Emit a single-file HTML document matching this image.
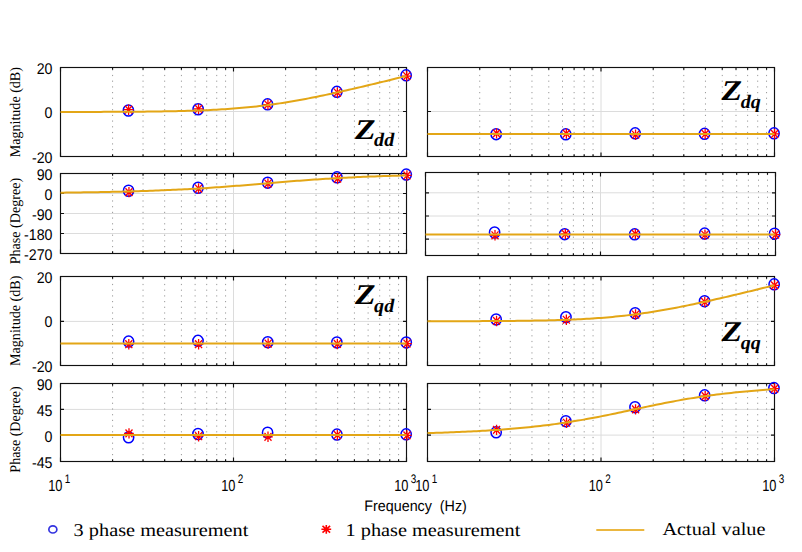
<!DOCTYPE html><html><head><meta charset="utf-8"><style>html,body{margin:0;padding:0;background:#fff;}svg{display:block} text{text-rendering:geometricPrecision}</style></head><body>
<svg width="802" height="552" viewBox="0 0 802 552">
<rect width="802" height="552" fill="#fff"/>
<line x1="233.50" y1="67.5" x2="233.50" y2="156.5" stroke="#dcdcdc" stroke-width="1"/>
<line x1="60.5" y1="111.5" x2="406.5" y2="111.5" stroke="#dcdcdc" stroke-width="1"/>
<line x1="112.58" y1="156.5" x2="112.58" y2="67.5" stroke="#9a9a9a" stroke-width="1" stroke-dasharray="1.2 4.5" stroke-dashoffset="-0.6"/>
<line x1="143.04" y1="156.5" x2="143.04" y2="67.5" stroke="#9a9a9a" stroke-width="1" stroke-dasharray="1.2 4.5" stroke-dashoffset="-0.6"/>
<line x1="164.66" y1="156.5" x2="164.66" y2="67.5" stroke="#9a9a9a" stroke-width="1" stroke-dasharray="1.2 4.5" stroke-dashoffset="-0.6"/>
<line x1="181.42" y1="156.5" x2="181.42" y2="67.5" stroke="#9a9a9a" stroke-width="1" stroke-dasharray="1.2 4.5" stroke-dashoffset="-0.6"/>
<line x1="195.12" y1="156.5" x2="195.12" y2="67.5" stroke="#9a9a9a" stroke-width="1" stroke-dasharray="1.2 4.5" stroke-dashoffset="-0.6"/>
<line x1="206.70" y1="156.5" x2="206.70" y2="67.5" stroke="#9a9a9a" stroke-width="1" stroke-dasharray="1.2 4.5" stroke-dashoffset="-0.6"/>
<line x1="216.73" y1="156.5" x2="216.73" y2="67.5" stroke="#9a9a9a" stroke-width="1" stroke-dasharray="1.2 4.5" stroke-dashoffset="-0.6"/>
<line x1="225.58" y1="156.5" x2="225.58" y2="67.5" stroke="#9a9a9a" stroke-width="1" stroke-dasharray="1.2 4.5" stroke-dashoffset="-0.6"/>
<line x1="285.58" y1="156.5" x2="285.58" y2="67.5" stroke="#9a9a9a" stroke-width="1" stroke-dasharray="1.2 4.5" stroke-dashoffset="-0.6"/>
<line x1="316.04" y1="156.5" x2="316.04" y2="67.5" stroke="#9a9a9a" stroke-width="1" stroke-dasharray="1.2 4.5" stroke-dashoffset="-0.6"/>
<line x1="337.66" y1="156.5" x2="337.66" y2="67.5" stroke="#9a9a9a" stroke-width="1" stroke-dasharray="1.2 4.5" stroke-dashoffset="-0.6"/>
<line x1="354.42" y1="156.5" x2="354.42" y2="67.5" stroke="#9a9a9a" stroke-width="1" stroke-dasharray="1.2 4.5" stroke-dashoffset="-0.6"/>
<line x1="368.12" y1="156.5" x2="368.12" y2="67.5" stroke="#9a9a9a" stroke-width="1" stroke-dasharray="1.2 4.5" stroke-dashoffset="-0.6"/>
<line x1="379.70" y1="156.5" x2="379.70" y2="67.5" stroke="#9a9a9a" stroke-width="1" stroke-dasharray="1.2 4.5" stroke-dashoffset="-0.6"/>
<line x1="389.73" y1="156.5" x2="389.73" y2="67.5" stroke="#9a9a9a" stroke-width="1" stroke-dasharray="1.2 4.5" stroke-dashoffset="-0.6"/>
<line x1="398.58" y1="156.5" x2="398.58" y2="67.5" stroke="#9a9a9a" stroke-width="1" stroke-dasharray="1.2 4.5" stroke-dashoffset="-0.6"/>
<path d="M60.50 156.5v-4M60.50 67.5v4M112.58 156.5v-2.2M112.58 67.5v2.2M143.04 156.5v-2.2M143.04 67.5v2.2M164.66 156.5v-2.2M164.66 67.5v2.2M181.42 156.5v-2.2M181.42 67.5v2.2M195.12 156.5v-2.2M195.12 67.5v2.2M206.70 156.5v-2.2M206.70 67.5v2.2M216.73 156.5v-2.2M216.73 67.5v2.2M225.58 156.5v-2.2M225.58 67.5v2.2M233.50 156.5v-4M233.50 67.5v4M285.58 156.5v-2.2M285.58 67.5v2.2M316.04 156.5v-2.2M316.04 67.5v2.2M337.66 156.5v-2.2M337.66 67.5v2.2M354.42 156.5v-2.2M354.42 67.5v2.2M368.12 156.5v-2.2M368.12 67.5v2.2M379.70 156.5v-2.2M379.70 67.5v2.2M389.73 156.5v-2.2M389.73 67.5v2.2M398.58 156.5v-2.2M398.58 67.5v2.2M406.50 156.5v-4M406.50 67.5v4M60.5 67.5h3.5M406.5 67.5h-3.5M60.5 111.5h3.5M406.5 111.5h-3.5M60.5 156.5h3.5M406.5 156.5h-3.5" stroke="#111" stroke-width="1.15" fill="none"/>
<rect x="60.5" y="67.5" width="346.0" height="89.0" fill="none" stroke="#111" stroke-width="1.15"/>
<ellipse cx="128.40" cy="110.50" rx="5.15" ry="5.5" fill="none" stroke="#0000ff" stroke-width="1.5"/>
<ellipse cx="198.15" cy="109.25" rx="5.15" ry="5.5" fill="none" stroke="#0000ff" stroke-width="1.5"/>
<ellipse cx="267.55" cy="104.35" rx="5.15" ry="5.5" fill="none" stroke="#0000ff" stroke-width="1.5"/>
<ellipse cx="336.85" cy="91.85" rx="5.15" ry="5.5" fill="none" stroke="#0000ff" stroke-width="1.5"/>
<ellipse cx="406.15" cy="75.35" rx="5.15" ry="5.5" fill="none" stroke="#0000ff" stroke-width="1.5"/>
<path d="M123.80 109.70h9.60M128.60 104.50v10.40M125.10 105.80l7.00 7.80M125.10 113.60l7.00 -7.80" stroke="#ff0000" stroke-width="1.3" fill="none"/>
<path d="M193.75 108.95h9.60M198.55 103.75v10.40M195.05 105.05l7.00 7.80M195.05 112.85l7.00 -7.80" stroke="#ff0000" stroke-width="1.3" fill="none"/>
<path d="M263.15 104.55h9.60M267.95 99.35v10.40M264.45 100.65l7.00 7.80M264.45 108.45l7.00 -7.80" stroke="#ff0000" stroke-width="1.3" fill="none"/>
<path d="M332.55 92.55h9.60M337.35 87.35v10.40M333.85 88.65l7.00 7.80M333.85 96.45l7.00 -7.80" stroke="#ff0000" stroke-width="1.3" fill="none"/>
<path d="M401.95 76.05h9.60M406.75 70.85v10.40M403.25 72.15l7.00 7.80M403.25 79.95l7.00 -7.80" stroke="#ff0000" stroke-width="1.3" fill="none"/>
<polyline points="60.50,111.96 63.38,111.96 66.27,111.95 69.15,111.95 72.03,111.94 74.92,111.94 77.80,111.93 80.68,111.93 83.57,111.92 86.45,111.92 89.33,111.91 92.22,111.90 95.10,111.90 97.98,111.89 100.87,111.88 103.75,111.87 106.63,111.86 109.52,111.85 112.40,111.84 115.28,111.82 118.17,111.81 121.05,111.80 123.93,111.78 126.82,111.76 129.70,111.74 132.58,111.72 135.47,111.70 138.35,111.68 141.23,111.65 144.12,111.63 147.00,111.60 149.88,111.57 152.77,111.53 155.65,111.50 158.53,111.46 161.42,111.41 164.30,111.37 167.18,111.32 170.07,111.27 172.95,111.21 175.83,111.15 178.72,111.09 181.60,111.02 184.48,110.94 187.37,110.86 190.25,110.78 193.13,110.69 196.02,110.59 198.90,110.49 201.78,110.38 204.67,110.26 207.55,110.13 210.43,110.00 213.32,109.86 216.20,109.70 219.08,109.54 221.97,109.37 224.85,109.19 227.73,109.00 230.62,108.79 233.50,108.58 236.38,108.35 239.27,108.11 242.15,107.86 245.03,107.60 247.92,107.32 250.80,107.03 253.68,106.73 256.57,106.41 259.45,106.08 262.33,105.73 265.22,105.37 268.10,105.00 270.98,104.61 273.87,104.21 276.75,103.80 279.63,103.37 282.52,102.93 285.40,102.47 288.28,102.00 291.17,101.52 294.05,101.03 296.93,100.52 299.82,100.01 302.70,99.48 305.58,98.94 308.47,98.39 311.35,97.83 314.23,97.26 317.12,96.68 320.00,96.09 322.88,95.49 325.77,94.89 328.65,94.27 331.53,93.65 334.42,93.02 337.30,92.39 340.18,91.75 343.07,91.10 345.95,90.45 348.83,89.80 351.72,89.13 354.60,88.47 357.48,87.80 360.37,87.12 363.25,86.44 366.13,85.76 369.02,85.08 371.90,84.39 374.78,83.70 377.67,83.00 380.55,82.31 383.43,81.61 386.32,80.91 389.20,80.20 392.08,79.50 394.97,78.79 397.85,78.08 400.73,77.37 403.62,76.66 406.50,75.95" fill="none" stroke="#E3A616" stroke-width="2"/>
<line x1="601.00" y1="67.5" x2="601.00" y2="156.5" stroke="#dcdcdc" stroke-width="1"/>
<line x1="427.5" y1="111.5" x2="774.5" y2="111.5" stroke="#dcdcdc" stroke-width="1"/>
<line x1="479.73" y1="156.5" x2="479.73" y2="67.5" stroke="#9a9a9a" stroke-width="1" stroke-dasharray="1.2 4.5" stroke-dashoffset="-0.6"/>
<line x1="510.28" y1="156.5" x2="510.28" y2="67.5" stroke="#9a9a9a" stroke-width="1" stroke-dasharray="1.2 4.5" stroke-dashoffset="-0.6"/>
<line x1="531.96" y1="156.5" x2="531.96" y2="67.5" stroke="#9a9a9a" stroke-width="1" stroke-dasharray="1.2 4.5" stroke-dashoffset="-0.6"/>
<line x1="548.77" y1="156.5" x2="548.77" y2="67.5" stroke="#9a9a9a" stroke-width="1" stroke-dasharray="1.2 4.5" stroke-dashoffset="-0.6"/>
<line x1="562.51" y1="156.5" x2="562.51" y2="67.5" stroke="#9a9a9a" stroke-width="1" stroke-dasharray="1.2 4.5" stroke-dashoffset="-0.6"/>
<line x1="574.12" y1="156.5" x2="574.12" y2="67.5" stroke="#9a9a9a" stroke-width="1" stroke-dasharray="1.2 4.5" stroke-dashoffset="-0.6"/>
<line x1="584.19" y1="156.5" x2="584.19" y2="67.5" stroke="#9a9a9a" stroke-width="1" stroke-dasharray="1.2 4.5" stroke-dashoffset="-0.6"/>
<line x1="593.06" y1="156.5" x2="593.06" y2="67.5" stroke="#9a9a9a" stroke-width="1" stroke-dasharray="1.2 4.5" stroke-dashoffset="-0.6"/>
<line x1="653.23" y1="156.5" x2="653.23" y2="67.5" stroke="#9a9a9a" stroke-width="1" stroke-dasharray="1.2 4.5" stroke-dashoffset="-0.6"/>
<line x1="683.78" y1="156.5" x2="683.78" y2="67.5" stroke="#9a9a9a" stroke-width="1" stroke-dasharray="1.2 4.5" stroke-dashoffset="-0.6"/>
<line x1="705.46" y1="156.5" x2="705.46" y2="67.5" stroke="#9a9a9a" stroke-width="1" stroke-dasharray="1.2 4.5" stroke-dashoffset="-0.6"/>
<line x1="722.27" y1="156.5" x2="722.27" y2="67.5" stroke="#9a9a9a" stroke-width="1" stroke-dasharray="1.2 4.5" stroke-dashoffset="-0.6"/>
<line x1="736.01" y1="156.5" x2="736.01" y2="67.5" stroke="#9a9a9a" stroke-width="1" stroke-dasharray="1.2 4.5" stroke-dashoffset="-0.6"/>
<line x1="747.62" y1="156.5" x2="747.62" y2="67.5" stroke="#9a9a9a" stroke-width="1" stroke-dasharray="1.2 4.5" stroke-dashoffset="-0.6"/>
<line x1="757.69" y1="156.5" x2="757.69" y2="67.5" stroke="#9a9a9a" stroke-width="1" stroke-dasharray="1.2 4.5" stroke-dashoffset="-0.6"/>
<line x1="766.56" y1="156.5" x2="766.56" y2="67.5" stroke="#9a9a9a" stroke-width="1" stroke-dasharray="1.2 4.5" stroke-dashoffset="-0.6"/>
<path d="M427.50 156.5v-4M427.50 67.5v4M479.73 156.5v-2.2M479.73 67.5v2.2M510.28 156.5v-2.2M510.28 67.5v2.2M531.96 156.5v-2.2M531.96 67.5v2.2M548.77 156.5v-2.2M548.77 67.5v2.2M562.51 156.5v-2.2M562.51 67.5v2.2M574.12 156.5v-2.2M574.12 67.5v2.2M584.19 156.5v-2.2M584.19 67.5v2.2M593.06 156.5v-2.2M593.06 67.5v2.2M601.00 156.5v-4M601.00 67.5v4M653.23 156.5v-2.2M653.23 67.5v2.2M683.78 156.5v-2.2M683.78 67.5v2.2M705.46 156.5v-2.2M705.46 67.5v2.2M722.27 156.5v-2.2M722.27 67.5v2.2M736.01 156.5v-2.2M736.01 67.5v2.2M747.62 156.5v-2.2M747.62 67.5v2.2M757.69 156.5v-2.2M757.69 67.5v2.2M766.56 156.5v-2.2M766.56 67.5v2.2M774.50 156.5v-4M774.50 67.5v4M427.5 67.5h3.5M774.5 67.5h-3.5M427.5 111.5h3.5M774.5 111.5h-3.5M427.5 156.5h3.5M774.5 156.5h-3.5" stroke="#111" stroke-width="1.15" fill="none"/>
<rect x="427.5" y="67.5" width="347.0" height="89.0" fill="none" stroke="#111" stroke-width="1.15"/>
<ellipse cx="496.15" cy="134.15" rx="5.15" ry="5.5" fill="none" stroke="#0000ff" stroke-width="1.5"/>
<ellipse cx="565.75" cy="134.35" rx="5.15" ry="5.5" fill="none" stroke="#0000ff" stroke-width="1.5"/>
<ellipse cx="635.15" cy="133.35" rx="5.15" ry="5.5" fill="none" stroke="#0000ff" stroke-width="1.5"/>
<ellipse cx="704.55" cy="133.85" rx="5.15" ry="5.5" fill="none" stroke="#0000ff" stroke-width="1.5"/>
<ellipse cx="774.05" cy="133.35" rx="5.15" ry="5.5" fill="none" stroke="#0000ff" stroke-width="1.5"/>
<path d="M491.75 133.35h9.60M496.55 128.15v10.40M493.05 129.45l7.00 7.80M493.05 137.25l7.00 -7.80" stroke="#ff0000" stroke-width="1.3" fill="none"/>
<path d="M561.55 133.65h9.60M566.35 128.45v10.40M562.85 129.75l7.00 7.80M562.85 137.55l7.00 -7.80" stroke="#ff0000" stroke-width="1.3" fill="none"/>
<path d="M630.75 134.75h9.60M635.55 129.55v10.40M632.05 130.85l7.00 7.80M632.05 138.65l7.00 -7.80" stroke="#ff0000" stroke-width="1.3" fill="none"/>
<path d="M700.35 133.95h9.60M705.15 128.75v10.40M701.65 130.05l7.00 7.80M701.65 137.85l7.00 -7.80" stroke="#ff0000" stroke-width="1.3" fill="none"/>
<path d="M769.75 133.95h9.60M774.55 128.75v10.40M771.05 130.05l7.00 7.80M771.05 137.85l7.00 -7.80" stroke="#ff0000" stroke-width="1.3" fill="none"/>
<polyline points="427.50,133.95 430.39,133.95 433.28,133.95 436.18,133.95 439.07,133.95 441.96,133.95 444.85,133.95 447.74,133.95 450.63,133.95 453.52,133.95 456.42,133.95 459.31,133.95 462.20,133.95 465.09,133.95 467.98,133.95 470.88,133.95 473.77,133.95 476.66,133.95 479.55,133.95 482.44,133.95 485.33,133.95 488.23,133.95 491.12,133.95 494.01,133.95 496.90,133.95 499.79,133.95 502.68,133.95 505.57,133.95 508.47,133.95 511.36,133.95 514.25,133.95 517.14,133.95 520.03,133.95 522.92,133.95 525.82,133.95 528.71,133.95 531.60,133.95 534.49,133.95 537.38,133.95 540.27,133.95 543.17,133.95 546.06,133.95 548.95,133.95 551.84,133.95 554.73,133.95 557.62,133.95 560.52,133.95 563.41,133.95 566.30,133.95 569.19,133.95 572.08,133.95 574.98,133.95 577.87,133.95 580.76,133.95 583.65,133.95 586.54,133.95 589.43,133.95 592.33,133.95 595.22,133.95 598.11,133.95 601.00,133.95 603.89,133.95 606.78,133.95 609.67,133.95 612.57,133.95 615.46,133.95 618.35,133.95 621.24,133.95 624.13,133.95 627.02,133.95 629.92,133.95 632.81,133.95 635.70,133.95 638.59,133.95 641.48,133.95 644.38,133.95 647.27,133.95 650.16,133.95 653.05,133.95 655.94,133.95 658.83,133.95 661.73,133.95 664.62,133.95 667.51,133.95 670.40,133.95 673.29,133.95 676.18,133.95 679.08,133.95 681.97,133.95 684.86,133.95 687.75,133.95 690.64,133.95 693.53,133.95 696.42,133.95 699.32,133.95 702.21,133.95 705.10,133.95 707.99,133.95 710.88,133.95 713.77,133.95 716.67,133.95 719.56,133.95 722.45,133.95 725.34,133.95 728.23,133.95 731.12,133.95 734.02,133.95 736.91,133.95 739.80,133.95 742.69,133.95 745.58,133.95 748.48,133.95 751.37,133.95 754.26,133.95 757.15,133.95 760.04,133.95 762.93,133.95 765.83,133.95 768.72,133.95 771.61,133.95 774.50,133.95" fill="none" stroke="#E3A616" stroke-width="2"/>
<line x1="233.50" y1="173.5" x2="233.50" y2="253.5" stroke="#dcdcdc" stroke-width="1"/>
<line x1="60.5" y1="193.5" x2="406.5" y2="193.5" stroke="#dcdcdc" stroke-width="1"/>
<line x1="60.5" y1="213.5" x2="406.5" y2="213.5" stroke="#dcdcdc" stroke-width="1"/>
<line x1="60.5" y1="233.5" x2="406.5" y2="233.5" stroke="#dcdcdc" stroke-width="1"/>
<line x1="112.58" y1="253.5" x2="112.58" y2="173.5" stroke="#9a9a9a" stroke-width="1" stroke-dasharray="1.2 4.5" stroke-dashoffset="-0.6"/>
<line x1="143.04" y1="253.5" x2="143.04" y2="173.5" stroke="#9a9a9a" stroke-width="1" stroke-dasharray="1.2 4.5" stroke-dashoffset="-0.6"/>
<line x1="164.66" y1="253.5" x2="164.66" y2="173.5" stroke="#9a9a9a" stroke-width="1" stroke-dasharray="1.2 4.5" stroke-dashoffset="-0.6"/>
<line x1="181.42" y1="253.5" x2="181.42" y2="173.5" stroke="#9a9a9a" stroke-width="1" stroke-dasharray="1.2 4.5" stroke-dashoffset="-0.6"/>
<line x1="195.12" y1="253.5" x2="195.12" y2="173.5" stroke="#9a9a9a" stroke-width="1" stroke-dasharray="1.2 4.5" stroke-dashoffset="-0.6"/>
<line x1="206.70" y1="253.5" x2="206.70" y2="173.5" stroke="#9a9a9a" stroke-width="1" stroke-dasharray="1.2 4.5" stroke-dashoffset="-0.6"/>
<line x1="216.73" y1="253.5" x2="216.73" y2="173.5" stroke="#9a9a9a" stroke-width="1" stroke-dasharray="1.2 4.5" stroke-dashoffset="-0.6"/>
<line x1="225.58" y1="253.5" x2="225.58" y2="173.5" stroke="#9a9a9a" stroke-width="1" stroke-dasharray="1.2 4.5" stroke-dashoffset="-0.6"/>
<line x1="285.58" y1="253.5" x2="285.58" y2="173.5" stroke="#9a9a9a" stroke-width="1" stroke-dasharray="1.2 4.5" stroke-dashoffset="-0.6"/>
<line x1="316.04" y1="253.5" x2="316.04" y2="173.5" stroke="#9a9a9a" stroke-width="1" stroke-dasharray="1.2 4.5" stroke-dashoffset="-0.6"/>
<line x1="337.66" y1="253.5" x2="337.66" y2="173.5" stroke="#9a9a9a" stroke-width="1" stroke-dasharray="1.2 4.5" stroke-dashoffset="-0.6"/>
<line x1="354.42" y1="253.5" x2="354.42" y2="173.5" stroke="#9a9a9a" stroke-width="1" stroke-dasharray="1.2 4.5" stroke-dashoffset="-0.6"/>
<line x1="368.12" y1="253.5" x2="368.12" y2="173.5" stroke="#9a9a9a" stroke-width="1" stroke-dasharray="1.2 4.5" stroke-dashoffset="-0.6"/>
<line x1="379.70" y1="253.5" x2="379.70" y2="173.5" stroke="#9a9a9a" stroke-width="1" stroke-dasharray="1.2 4.5" stroke-dashoffset="-0.6"/>
<line x1="389.73" y1="253.5" x2="389.73" y2="173.5" stroke="#9a9a9a" stroke-width="1" stroke-dasharray="1.2 4.5" stroke-dashoffset="-0.6"/>
<line x1="398.58" y1="253.5" x2="398.58" y2="173.5" stroke="#9a9a9a" stroke-width="1" stroke-dasharray="1.2 4.5" stroke-dashoffset="-0.6"/>
<path d="M60.50 253.5v-4M60.50 173.5v4M112.58 253.5v-2.2M112.58 173.5v2.2M143.04 253.5v-2.2M143.04 173.5v2.2M164.66 253.5v-2.2M164.66 173.5v2.2M181.42 253.5v-2.2M181.42 173.5v2.2M195.12 253.5v-2.2M195.12 173.5v2.2M206.70 253.5v-2.2M206.70 173.5v2.2M216.73 253.5v-2.2M216.73 173.5v2.2M225.58 253.5v-2.2M225.58 173.5v2.2M233.50 253.5v-4M233.50 173.5v4M285.58 253.5v-2.2M285.58 173.5v2.2M316.04 253.5v-2.2M316.04 173.5v2.2M337.66 253.5v-2.2M337.66 173.5v2.2M354.42 253.5v-2.2M354.42 173.5v2.2M368.12 253.5v-2.2M368.12 173.5v2.2M379.70 253.5v-2.2M379.70 173.5v2.2M389.73 253.5v-2.2M389.73 173.5v2.2M398.58 253.5v-2.2M398.58 173.5v2.2M406.50 253.5v-4M406.50 173.5v4M60.5 173.5h3.5M406.5 173.5h-3.5M60.5 193.5h3.5M406.5 193.5h-3.5M60.5 213.5h3.5M406.5 213.5h-3.5M60.5 233.5h3.5M406.5 233.5h-3.5M60.5 253.5h3.5M406.5 253.5h-3.5" stroke="#111" stroke-width="1.15" fill="none"/>
<rect x="60.5" y="173.5" width="346.0" height="80.0" fill="none" stroke="#111" stroke-width="1.15"/>
<ellipse cx="128.55" cy="190.75" rx="5.15" ry="5.5" fill="none" stroke="#0000ff" stroke-width="1.5"/>
<ellipse cx="198.05" cy="187.75" rx="5.15" ry="5.5" fill="none" stroke="#0000ff" stroke-width="1.5"/>
<ellipse cx="267.65" cy="182.65" rx="5.15" ry="5.5" fill="none" stroke="#0000ff" stroke-width="1.5"/>
<ellipse cx="336.95" cy="177.35" rx="5.15" ry="5.5" fill="none" stroke="#0000ff" stroke-width="1.5"/>
<ellipse cx="406.25" cy="174.55" rx="5.15" ry="5.5" fill="none" stroke="#0000ff" stroke-width="1.5"/>
<path d="M124.15 192.15h9.60M128.95 186.95v10.40M125.45 188.25l7.00 7.80M125.45 196.05l7.00 -7.80" stroke="#ff0000" stroke-width="1.3" fill="none"/>
<path d="M193.75 188.55h9.60M198.55 183.35v10.40M195.05 184.65l7.00 7.80M195.05 192.45l7.00 -7.80" stroke="#ff0000" stroke-width="1.3" fill="none"/>
<path d="M263.15 183.55h9.60M267.95 178.35v10.40M264.45 179.65l7.00 7.80M264.45 187.45l7.00 -7.80" stroke="#ff0000" stroke-width="1.3" fill="none"/>
<path d="M332.75 178.55h9.60M337.55 173.35v10.40M334.05 174.65l7.00 7.80M334.05 182.45l7.00 -7.80" stroke="#ff0000" stroke-width="1.3" fill="none"/>
<path d="M402.15 175.45h9.60M406.95 170.25v10.40M403.45 171.55l7.00 7.80M403.45 179.35l7.00 -7.80" stroke="#ff0000" stroke-width="1.3" fill="none"/>
<polyline points="60.50,192.66 63.38,192.63 66.27,192.60 69.15,192.56 72.03,192.53 74.92,192.49 77.80,192.45 80.68,192.41 83.57,192.36 86.45,192.32 89.33,192.27 92.22,192.23 95.10,192.18 97.98,192.13 100.87,192.07 103.75,192.02 106.63,191.96 109.52,191.90 112.40,191.84 115.28,191.77 118.17,191.71 121.05,191.64 123.93,191.57 126.82,191.49 129.70,191.41 132.58,191.33 135.47,191.25 138.35,191.17 141.23,191.08 144.12,190.98 147.00,190.89 149.88,190.79 152.77,190.69 155.65,190.58 158.53,190.47 161.42,190.36 164.30,190.24 167.18,190.12 170.07,189.99 172.95,189.86 175.83,189.73 178.72,189.59 181.60,189.44 184.48,189.30 187.37,189.15 190.25,188.99 193.13,188.83 196.02,188.66 198.90,188.49 201.78,188.31 204.67,188.13 207.55,187.95 210.43,187.76 213.32,187.57 216.20,187.37 219.08,187.17 221.97,186.96 224.85,186.75 227.73,186.53 230.62,186.31 233.50,186.09 236.38,185.86 239.27,185.64 242.15,185.40 245.03,185.17 247.92,184.93 250.80,184.69 253.68,184.45 256.57,184.21 259.45,183.97 262.33,183.72 265.22,183.48 268.10,183.23 270.98,182.99 273.87,182.75 276.75,182.50 279.63,182.26 282.52,182.03 285.40,181.79 288.28,181.55 291.17,181.32 294.05,181.09 296.93,180.87 299.82,180.65 302.70,180.43 305.58,180.21 308.47,180.00 311.35,179.80 314.23,179.60 317.12,179.40 320.00,179.20 322.88,179.02 325.77,178.83 328.65,178.65 331.53,178.48 334.42,178.31 337.30,178.14 340.18,177.98 343.07,177.83 345.95,177.68 348.83,177.53 351.72,177.39 354.60,177.25 357.48,177.12 360.37,176.99 363.25,176.86 366.13,176.74 369.02,176.62 371.90,176.51 374.78,176.40 377.67,176.29 380.55,176.19 383.43,176.09 386.32,176.00 389.20,175.91 392.08,175.82 394.97,175.73 397.85,175.65 400.73,175.57 403.62,175.49 406.50,175.42" fill="none" stroke="#E3A616" stroke-width="2"/>
<line x1="600.50" y1="172.5" x2="600.50" y2="255.5" stroke="#dcdcdc" stroke-width="1"/>
<line x1="425.5" y1="192.8" x2="775.5" y2="192.8" stroke="#dcdcdc" stroke-width="1"/>
<line x1="425.5" y1="216.0" x2="775.5" y2="216.0" stroke="#dcdcdc" stroke-width="1"/>
<line x1="425.5" y1="239.1" x2="775.5" y2="239.1" stroke="#dcdcdc" stroke-width="1"/>
<line x1="478.18" y1="255.5" x2="478.18" y2="172.5" stroke="#9a9a9a" stroke-width="1" stroke-dasharray="1.2 4.5" stroke-dashoffset="-0.6"/>
<line x1="509.00" y1="255.5" x2="509.00" y2="172.5" stroke="#9a9a9a" stroke-width="1" stroke-dasharray="1.2 4.5" stroke-dashoffset="-0.6"/>
<line x1="530.86" y1="255.5" x2="530.86" y2="172.5" stroke="#9a9a9a" stroke-width="1" stroke-dasharray="1.2 4.5" stroke-dashoffset="-0.6"/>
<line x1="547.82" y1="255.5" x2="547.82" y2="172.5" stroke="#9a9a9a" stroke-width="1" stroke-dasharray="1.2 4.5" stroke-dashoffset="-0.6"/>
<line x1="561.68" y1="255.5" x2="561.68" y2="172.5" stroke="#9a9a9a" stroke-width="1" stroke-dasharray="1.2 4.5" stroke-dashoffset="-0.6"/>
<line x1="573.39" y1="255.5" x2="573.39" y2="172.5" stroke="#9a9a9a" stroke-width="1" stroke-dasharray="1.2 4.5" stroke-dashoffset="-0.6"/>
<line x1="583.54" y1="255.5" x2="583.54" y2="172.5" stroke="#9a9a9a" stroke-width="1" stroke-dasharray="1.2 4.5" stroke-dashoffset="-0.6"/>
<line x1="592.49" y1="255.5" x2="592.49" y2="172.5" stroke="#9a9a9a" stroke-width="1" stroke-dasharray="1.2 4.5" stroke-dashoffset="-0.6"/>
<line x1="653.18" y1="255.5" x2="653.18" y2="172.5" stroke="#9a9a9a" stroke-width="1" stroke-dasharray="1.2 4.5" stroke-dashoffset="-0.6"/>
<line x1="684.00" y1="255.5" x2="684.00" y2="172.5" stroke="#9a9a9a" stroke-width="1" stroke-dasharray="1.2 4.5" stroke-dashoffset="-0.6"/>
<line x1="705.86" y1="255.5" x2="705.86" y2="172.5" stroke="#9a9a9a" stroke-width="1" stroke-dasharray="1.2 4.5" stroke-dashoffset="-0.6"/>
<line x1="722.82" y1="255.5" x2="722.82" y2="172.5" stroke="#9a9a9a" stroke-width="1" stroke-dasharray="1.2 4.5" stroke-dashoffset="-0.6"/>
<line x1="736.68" y1="255.5" x2="736.68" y2="172.5" stroke="#9a9a9a" stroke-width="1" stroke-dasharray="1.2 4.5" stroke-dashoffset="-0.6"/>
<line x1="748.39" y1="255.5" x2="748.39" y2="172.5" stroke="#9a9a9a" stroke-width="1" stroke-dasharray="1.2 4.5" stroke-dashoffset="-0.6"/>
<line x1="758.54" y1="255.5" x2="758.54" y2="172.5" stroke="#9a9a9a" stroke-width="1" stroke-dasharray="1.2 4.5" stroke-dashoffset="-0.6"/>
<line x1="767.49" y1="255.5" x2="767.49" y2="172.5" stroke="#9a9a9a" stroke-width="1" stroke-dasharray="1.2 4.5" stroke-dashoffset="-0.6"/>
<path d="M425.50 255.5v-4M425.50 172.5v4M478.18 255.5v-2.2M478.18 172.5v2.2M509.00 255.5v-2.2M509.00 172.5v2.2M530.86 255.5v-2.2M530.86 172.5v2.2M547.82 255.5v-2.2M547.82 172.5v2.2M561.68 255.5v-2.2M561.68 172.5v2.2M573.39 255.5v-2.2M573.39 172.5v2.2M583.54 255.5v-2.2M583.54 172.5v2.2M592.49 255.5v-2.2M592.49 172.5v2.2M600.50 255.5v-4M600.50 172.5v4M653.18 255.5v-2.2M653.18 172.5v2.2M684.00 255.5v-2.2M684.00 172.5v2.2M705.86 255.5v-2.2M705.86 172.5v2.2M722.82 255.5v-2.2M722.82 172.5v2.2M736.68 255.5v-2.2M736.68 172.5v2.2M748.39 255.5v-2.2M748.39 172.5v2.2M758.54 255.5v-2.2M758.54 172.5v2.2M767.49 255.5v-2.2M767.49 172.5v2.2M775.50 255.5v-4M775.50 172.5v4M425.5 192.8h3.5M775.5 192.8h-3.5M425.5 216.0h3.5M775.5 216.0h-3.5M425.5 239.1h3.5M775.5 239.1h-3.5" stroke="#111" stroke-width="1.15" fill="none"/>
<rect x="425.5" y="172.5" width="350.0" height="83.0" fill="none" stroke="#111" stroke-width="1.15"/>
<ellipse cx="494.60" cy="232.50" rx="5.15" ry="5.5" fill="none" stroke="#0000ff" stroke-width="1.5"/>
<ellipse cx="564.65" cy="234.15" rx="5.15" ry="5.5" fill="none" stroke="#0000ff" stroke-width="1.5"/>
<ellipse cx="634.65" cy="234.35" rx="5.15" ry="5.5" fill="none" stroke="#0000ff" stroke-width="1.5"/>
<ellipse cx="704.65" cy="233.55" rx="5.15" ry="5.5" fill="none" stroke="#0000ff" stroke-width="1.5"/>
<ellipse cx="774.55" cy="233.65" rx="5.15" ry="5.5" fill="none" stroke="#0000ff" stroke-width="1.5"/>
<path d="M490.20 235.30h9.60M495.00 230.10v10.40M491.50 231.40l7.00 7.80M491.50 239.20l7.00 -7.80" stroke="#ff0000" stroke-width="1.3" fill="none"/>
<path d="M560.55 233.95h9.60M565.35 228.75v10.40M561.85 230.05l7.00 7.80M561.85 237.85l7.00 -7.80" stroke="#ff0000" stroke-width="1.3" fill="none"/>
<path d="M630.55 233.95h9.60M635.35 228.75v10.40M631.85 230.05l7.00 7.80M631.85 237.85l7.00 -7.80" stroke="#ff0000" stroke-width="1.3" fill="none"/>
<path d="M700.15 234.75h9.60M704.95 229.55v10.40M701.45 230.85l7.00 7.80M701.45 238.65l7.00 -7.80" stroke="#ff0000" stroke-width="1.3" fill="none"/>
<path d="M770.75 234.55h9.60M775.55 229.35v10.40M772.05 230.65l7.00 7.80M772.05 238.45l7.00 -7.80" stroke="#ff0000" stroke-width="1.3" fill="none"/>
<polyline points="425.50,234.40 428.42,234.40 431.33,234.40 434.25,234.40 437.17,234.40 440.08,234.40 443.00,234.40 445.92,234.40 448.83,234.40 451.75,234.40 454.67,234.40 457.58,234.40 460.50,234.40 463.42,234.40 466.33,234.40 469.25,234.40 472.17,234.40 475.08,234.40 478.00,234.40 480.92,234.40 483.83,234.40 486.75,234.40 489.67,234.40 492.58,234.40 495.50,234.40 498.42,234.40 501.33,234.40 504.25,234.40 507.17,234.40 510.08,234.40 513.00,234.40 515.92,234.40 518.83,234.40 521.75,234.40 524.67,234.40 527.58,234.40 530.50,234.40 533.42,234.40 536.33,234.40 539.25,234.40 542.17,234.40 545.08,234.40 548.00,234.40 550.92,234.40 553.83,234.40 556.75,234.40 559.67,234.40 562.58,234.40 565.50,234.40 568.42,234.40 571.33,234.40 574.25,234.40 577.17,234.40 580.08,234.40 583.00,234.40 585.92,234.40 588.83,234.40 591.75,234.40 594.67,234.40 597.58,234.40 600.50,234.40 603.42,234.40 606.33,234.40 609.25,234.40 612.17,234.40 615.08,234.40 618.00,234.40 620.92,234.40 623.83,234.40 626.75,234.40 629.67,234.40 632.58,234.40 635.50,234.40 638.42,234.40 641.33,234.40 644.25,234.40 647.17,234.40 650.08,234.40 653.00,234.40 655.92,234.40 658.83,234.40 661.75,234.40 664.67,234.40 667.58,234.40 670.50,234.40 673.42,234.40 676.33,234.40 679.25,234.40 682.17,234.40 685.08,234.40 688.00,234.40 690.92,234.40 693.83,234.40 696.75,234.40 699.67,234.40 702.58,234.40 705.50,234.40 708.42,234.40 711.33,234.40 714.25,234.40 717.17,234.40 720.08,234.40 723.00,234.40 725.92,234.40 728.83,234.40 731.75,234.40 734.67,234.40 737.58,234.40 740.50,234.40 743.42,234.40 746.33,234.40 749.25,234.40 752.17,234.40 755.08,234.40 758.00,234.40 760.92,234.40 763.83,234.40 766.75,234.40 769.67,234.40 772.58,234.40 775.50,234.40" fill="none" stroke="#E3A616" stroke-width="2"/>
<line x1="233.50" y1="276.5" x2="233.50" y2="365.5" stroke="#dcdcdc" stroke-width="1"/>
<line x1="60.5" y1="321.4" x2="406.5" y2="321.4" stroke="#dcdcdc" stroke-width="1"/>
<line x1="112.58" y1="365.5" x2="112.58" y2="276.5" stroke="#9a9a9a" stroke-width="1" stroke-dasharray="1.2 4.5" stroke-dashoffset="-0.6"/>
<line x1="143.04" y1="365.5" x2="143.04" y2="276.5" stroke="#9a9a9a" stroke-width="1" stroke-dasharray="1.2 4.5" stroke-dashoffset="-0.6"/>
<line x1="164.66" y1="365.5" x2="164.66" y2="276.5" stroke="#9a9a9a" stroke-width="1" stroke-dasharray="1.2 4.5" stroke-dashoffset="-0.6"/>
<line x1="181.42" y1="365.5" x2="181.42" y2="276.5" stroke="#9a9a9a" stroke-width="1" stroke-dasharray="1.2 4.5" stroke-dashoffset="-0.6"/>
<line x1="195.12" y1="365.5" x2="195.12" y2="276.5" stroke="#9a9a9a" stroke-width="1" stroke-dasharray="1.2 4.5" stroke-dashoffset="-0.6"/>
<line x1="206.70" y1="365.5" x2="206.70" y2="276.5" stroke="#9a9a9a" stroke-width="1" stroke-dasharray="1.2 4.5" stroke-dashoffset="-0.6"/>
<line x1="216.73" y1="365.5" x2="216.73" y2="276.5" stroke="#9a9a9a" stroke-width="1" stroke-dasharray="1.2 4.5" stroke-dashoffset="-0.6"/>
<line x1="225.58" y1="365.5" x2="225.58" y2="276.5" stroke="#9a9a9a" stroke-width="1" stroke-dasharray="1.2 4.5" stroke-dashoffset="-0.6"/>
<line x1="285.58" y1="365.5" x2="285.58" y2="276.5" stroke="#9a9a9a" stroke-width="1" stroke-dasharray="1.2 4.5" stroke-dashoffset="-0.6"/>
<line x1="316.04" y1="365.5" x2="316.04" y2="276.5" stroke="#9a9a9a" stroke-width="1" stroke-dasharray="1.2 4.5" stroke-dashoffset="-0.6"/>
<line x1="337.66" y1="365.5" x2="337.66" y2="276.5" stroke="#9a9a9a" stroke-width="1" stroke-dasharray="1.2 4.5" stroke-dashoffset="-0.6"/>
<line x1="354.42" y1="365.5" x2="354.42" y2="276.5" stroke="#9a9a9a" stroke-width="1" stroke-dasharray="1.2 4.5" stroke-dashoffset="-0.6"/>
<line x1="368.12" y1="365.5" x2="368.12" y2="276.5" stroke="#9a9a9a" stroke-width="1" stroke-dasharray="1.2 4.5" stroke-dashoffset="-0.6"/>
<line x1="379.70" y1="365.5" x2="379.70" y2="276.5" stroke="#9a9a9a" stroke-width="1" stroke-dasharray="1.2 4.5" stroke-dashoffset="-0.6"/>
<line x1="389.73" y1="365.5" x2="389.73" y2="276.5" stroke="#9a9a9a" stroke-width="1" stroke-dasharray="1.2 4.5" stroke-dashoffset="-0.6"/>
<line x1="398.58" y1="365.5" x2="398.58" y2="276.5" stroke="#9a9a9a" stroke-width="1" stroke-dasharray="1.2 4.5" stroke-dashoffset="-0.6"/>
<path d="M60.50 365.5v-4M60.50 276.5v4M112.58 365.5v-2.2M112.58 276.5v2.2M143.04 365.5v-2.2M143.04 276.5v2.2M164.66 365.5v-2.2M164.66 276.5v2.2M181.42 365.5v-2.2M181.42 276.5v2.2M195.12 365.5v-2.2M195.12 276.5v2.2M206.70 365.5v-2.2M206.70 276.5v2.2M216.73 365.5v-2.2M216.73 276.5v2.2M225.58 365.5v-2.2M225.58 276.5v2.2M233.50 365.5v-4M233.50 276.5v4M285.58 365.5v-2.2M285.58 276.5v2.2M316.04 365.5v-2.2M316.04 276.5v2.2M337.66 365.5v-2.2M337.66 276.5v2.2M354.42 365.5v-2.2M354.42 276.5v2.2M368.12 365.5v-2.2M368.12 276.5v2.2M379.70 365.5v-2.2M379.70 276.5v2.2M389.73 365.5v-2.2M389.73 276.5v2.2M398.58 365.5v-2.2M398.58 276.5v2.2M406.50 365.5v-4M406.50 276.5v4M60.5 276.5h3.5M406.5 276.5h-3.5M60.5 321.4h3.5M406.5 321.4h-3.5M60.5 365.5h3.5M406.5 365.5h-3.5" stroke="#111" stroke-width="1.15" fill="none"/>
<rect x="60.5" y="276.5" width="346.0" height="89.0" fill="none" stroke="#111" stroke-width="1.15"/>
<ellipse cx="128.60" cy="341.60" rx="5.15" ry="5.5" fill="none" stroke="#0000ff" stroke-width="1.5"/>
<ellipse cx="198.00" cy="340.80" rx="5.15" ry="5.5" fill="none" stroke="#0000ff" stroke-width="1.5"/>
<ellipse cx="267.75" cy="342.20" rx="5.15" ry="5.5" fill="none" stroke="#0000ff" stroke-width="1.5"/>
<ellipse cx="336.85" cy="342.40" rx="5.15" ry="5.5" fill="none" stroke="#0000ff" stroke-width="1.5"/>
<ellipse cx="406.25" cy="342.40" rx="5.15" ry="5.5" fill="none" stroke="#0000ff" stroke-width="1.5"/>
<path d="M124.00 344.20h9.60M128.80 339.00v10.40M125.30 340.30l7.00 7.80M125.30 348.10l7.00 -7.80" stroke="#ff0000" stroke-width="1.3" fill="none"/>
<path d="M193.80 344.20h9.60M198.60 339.00v10.40M195.10 340.30l7.00 7.80M195.10 348.10l7.00 -7.80" stroke="#ff0000" stroke-width="1.3" fill="none"/>
<path d="M263.35 343.55h9.60M268.15 338.35v10.40M264.65 339.65l7.00 7.80M264.65 347.45l7.00 -7.80" stroke="#ff0000" stroke-width="1.3" fill="none"/>
<path d="M332.55 343.95h9.60M337.35 338.75v10.40M333.85 340.05l7.00 7.80M333.85 347.85l7.00 -7.80" stroke="#ff0000" stroke-width="1.3" fill="none"/>
<path d="M402.15 343.55h9.60M406.95 338.35v10.40M403.45 339.65l7.00 7.80M403.45 347.45l7.00 -7.80" stroke="#ff0000" stroke-width="1.3" fill="none"/>
<polyline points="60.50,343.40 63.38,343.40 66.27,343.40 69.15,343.40 72.03,343.40 74.92,343.40 77.80,343.40 80.68,343.40 83.57,343.40 86.45,343.40 89.33,343.40 92.22,343.40 95.10,343.40 97.98,343.40 100.87,343.40 103.75,343.40 106.63,343.40 109.52,343.40 112.40,343.40 115.28,343.40 118.17,343.40 121.05,343.40 123.93,343.40 126.82,343.40 129.70,343.40 132.58,343.40 135.47,343.40 138.35,343.40 141.23,343.40 144.12,343.40 147.00,343.40 149.88,343.40 152.77,343.40 155.65,343.40 158.53,343.40 161.42,343.40 164.30,343.40 167.18,343.40 170.07,343.40 172.95,343.40 175.83,343.40 178.72,343.40 181.60,343.40 184.48,343.40 187.37,343.40 190.25,343.40 193.13,343.40 196.02,343.40 198.90,343.40 201.78,343.40 204.67,343.40 207.55,343.40 210.43,343.40 213.32,343.40 216.20,343.40 219.08,343.40 221.97,343.40 224.85,343.40 227.73,343.40 230.62,343.40 233.50,343.40 236.38,343.40 239.27,343.40 242.15,343.40 245.03,343.40 247.92,343.40 250.80,343.40 253.68,343.40 256.57,343.40 259.45,343.40 262.33,343.40 265.22,343.40 268.10,343.40 270.98,343.40 273.87,343.40 276.75,343.40 279.63,343.40 282.52,343.40 285.40,343.40 288.28,343.40 291.17,343.40 294.05,343.40 296.93,343.40 299.82,343.40 302.70,343.40 305.58,343.40 308.47,343.40 311.35,343.40 314.23,343.40 317.12,343.40 320.00,343.40 322.88,343.40 325.77,343.40 328.65,343.40 331.53,343.40 334.42,343.40 337.30,343.40 340.18,343.40 343.07,343.40 345.95,343.40 348.83,343.40 351.72,343.40 354.60,343.40 357.48,343.40 360.37,343.40 363.25,343.40 366.13,343.40 369.02,343.40 371.90,343.40 374.78,343.40 377.67,343.40 380.55,343.40 383.43,343.40 386.32,343.40 389.20,343.40 392.08,343.40 394.97,343.40 397.85,343.40 400.73,343.40 403.62,343.40 406.50,343.40" fill="none" stroke="#E3A616" stroke-width="2"/>
<line x1="601.00" y1="276.5" x2="601.00" y2="365.5" stroke="#dcdcdc" stroke-width="1"/>
<line x1="427.5" y1="321.4" x2="774.5" y2="321.4" stroke="#dcdcdc" stroke-width="1"/>
<line x1="479.73" y1="365.5" x2="479.73" y2="276.5" stroke="#9a9a9a" stroke-width="1" stroke-dasharray="1.2 4.5" stroke-dashoffset="-0.6"/>
<line x1="510.28" y1="365.5" x2="510.28" y2="276.5" stroke="#9a9a9a" stroke-width="1" stroke-dasharray="1.2 4.5" stroke-dashoffset="-0.6"/>
<line x1="531.96" y1="365.5" x2="531.96" y2="276.5" stroke="#9a9a9a" stroke-width="1" stroke-dasharray="1.2 4.5" stroke-dashoffset="-0.6"/>
<line x1="548.77" y1="365.5" x2="548.77" y2="276.5" stroke="#9a9a9a" stroke-width="1" stroke-dasharray="1.2 4.5" stroke-dashoffset="-0.6"/>
<line x1="562.51" y1="365.5" x2="562.51" y2="276.5" stroke="#9a9a9a" stroke-width="1" stroke-dasharray="1.2 4.5" stroke-dashoffset="-0.6"/>
<line x1="574.12" y1="365.5" x2="574.12" y2="276.5" stroke="#9a9a9a" stroke-width="1" stroke-dasharray="1.2 4.5" stroke-dashoffset="-0.6"/>
<line x1="584.19" y1="365.5" x2="584.19" y2="276.5" stroke="#9a9a9a" stroke-width="1" stroke-dasharray="1.2 4.5" stroke-dashoffset="-0.6"/>
<line x1="593.06" y1="365.5" x2="593.06" y2="276.5" stroke="#9a9a9a" stroke-width="1" stroke-dasharray="1.2 4.5" stroke-dashoffset="-0.6"/>
<line x1="653.23" y1="365.5" x2="653.23" y2="276.5" stroke="#9a9a9a" stroke-width="1" stroke-dasharray="1.2 4.5" stroke-dashoffset="-0.6"/>
<line x1="683.78" y1="365.5" x2="683.78" y2="276.5" stroke="#9a9a9a" stroke-width="1" stroke-dasharray="1.2 4.5" stroke-dashoffset="-0.6"/>
<line x1="705.46" y1="365.5" x2="705.46" y2="276.5" stroke="#9a9a9a" stroke-width="1" stroke-dasharray="1.2 4.5" stroke-dashoffset="-0.6"/>
<line x1="722.27" y1="365.5" x2="722.27" y2="276.5" stroke="#9a9a9a" stroke-width="1" stroke-dasharray="1.2 4.5" stroke-dashoffset="-0.6"/>
<line x1="736.01" y1="365.5" x2="736.01" y2="276.5" stroke="#9a9a9a" stroke-width="1" stroke-dasharray="1.2 4.5" stroke-dashoffset="-0.6"/>
<line x1="747.62" y1="365.5" x2="747.62" y2="276.5" stroke="#9a9a9a" stroke-width="1" stroke-dasharray="1.2 4.5" stroke-dashoffset="-0.6"/>
<line x1="757.69" y1="365.5" x2="757.69" y2="276.5" stroke="#9a9a9a" stroke-width="1" stroke-dasharray="1.2 4.5" stroke-dashoffset="-0.6"/>
<line x1="766.56" y1="365.5" x2="766.56" y2="276.5" stroke="#9a9a9a" stroke-width="1" stroke-dasharray="1.2 4.5" stroke-dashoffset="-0.6"/>
<path d="M427.50 365.5v-4M427.50 276.5v4M479.73 365.5v-2.2M479.73 276.5v2.2M510.28 365.5v-2.2M510.28 276.5v2.2M531.96 365.5v-2.2M531.96 276.5v2.2M548.77 365.5v-2.2M548.77 276.5v2.2M562.51 365.5v-2.2M562.51 276.5v2.2M574.12 365.5v-2.2M574.12 276.5v2.2M584.19 365.5v-2.2M584.19 276.5v2.2M593.06 365.5v-2.2M593.06 276.5v2.2M601.00 365.5v-4M601.00 276.5v4M653.23 365.5v-2.2M653.23 276.5v2.2M683.78 365.5v-2.2M683.78 276.5v2.2M705.46 365.5v-2.2M705.46 276.5v2.2M722.27 365.5v-2.2M722.27 276.5v2.2M736.01 365.5v-2.2M736.01 276.5v2.2M747.62 365.5v-2.2M747.62 276.5v2.2M757.69 365.5v-2.2M757.69 276.5v2.2M766.56 365.5v-2.2M766.56 276.5v2.2M774.50 365.5v-4M774.50 276.5v4M427.5 276.5h3.5M774.5 276.5h-3.5M427.5 321.4h3.5M774.5 321.4h-3.5M427.5 365.5h3.5M774.5 365.5h-3.5" stroke="#111" stroke-width="1.15" fill="none"/>
<rect x="427.5" y="276.5" width="347.0" height="89.0" fill="none" stroke="#111" stroke-width="1.15"/>
<ellipse cx="496.15" cy="319.45" rx="5.15" ry="5.5" fill="none" stroke="#0000ff" stroke-width="1.5"/>
<ellipse cx="565.95" cy="317.15" rx="5.15" ry="5.5" fill="none" stroke="#0000ff" stroke-width="1.5"/>
<ellipse cx="635.15" cy="313.15" rx="5.15" ry="5.5" fill="none" stroke="#0000ff" stroke-width="1.5"/>
<ellipse cx="704.55" cy="301.15" rx="5.15" ry="5.5" fill="none" stroke="#0000ff" stroke-width="1.5"/>
<ellipse cx="774.15" cy="284.35" rx="5.15" ry="5.5" fill="none" stroke="#0000ff" stroke-width="1.5"/>
<path d="M491.75 320.95h9.60M496.55 315.75v10.40M493.05 317.05l7.00 7.80M493.05 324.85l7.00 -7.80" stroke="#ff0000" stroke-width="1.3" fill="none"/>
<path d="M561.55 319.75h9.60M566.35 314.55v10.40M562.85 315.85l7.00 7.80M562.85 323.65l7.00 -7.80" stroke="#ff0000" stroke-width="1.3" fill="none"/>
<path d="M630.75 314.55h9.60M635.55 309.35v10.40M632.05 310.65l7.00 7.80M632.05 318.45l7.00 -7.80" stroke="#ff0000" stroke-width="1.3" fill="none"/>
<path d="M699.95 301.95h9.60M704.75 296.75v10.40M701.25 298.05l7.00 7.80M701.25 305.85l7.00 -7.80" stroke="#ff0000" stroke-width="1.3" fill="none"/>
<path d="M769.75 285.35h9.60M774.55 280.15v10.40M771.05 281.45l7.00 7.80M771.05 289.25l7.00 -7.80" stroke="#ff0000" stroke-width="1.3" fill="none"/>
<polyline points="427.50,321.26 430.39,321.26 433.28,321.25 436.18,321.25 439.07,321.24 441.96,321.24 444.85,321.23 447.74,321.23 450.63,321.22 453.52,321.22 456.42,321.21 459.31,321.20 462.20,321.20 465.09,321.19 467.98,321.18 470.88,321.17 473.77,321.16 476.66,321.15 479.55,321.14 482.44,321.12 485.33,321.11 488.23,321.10 491.12,321.08 494.01,321.06 496.90,321.04 499.79,321.02 502.68,321.00 505.57,320.98 508.47,320.95 511.36,320.93 514.25,320.90 517.14,320.87 520.03,320.83 522.92,320.80 525.82,320.76 528.71,320.71 531.60,320.67 534.49,320.62 537.38,320.57 540.27,320.51 543.17,320.45 546.06,320.39 548.95,320.32 551.84,320.24 554.73,320.16 557.62,320.08 560.52,319.99 563.41,319.89 566.30,319.79 569.19,319.68 572.08,319.56 574.98,319.43 577.87,319.30 580.76,319.16 583.65,319.00 586.54,318.84 589.43,318.67 592.33,318.49 595.22,318.30 598.11,318.09 601.00,317.88 603.89,317.65 606.78,317.41 609.67,317.16 612.57,316.90 615.46,316.62 618.35,316.33 621.24,316.03 624.13,315.71 627.02,315.38 629.92,315.03 632.81,314.67 635.70,314.30 638.59,313.91 641.48,313.51 644.38,313.10 647.27,312.67 650.16,312.23 653.05,311.77 655.94,311.30 658.83,310.82 661.73,310.33 664.62,309.82 667.51,309.31 670.40,308.78 673.29,308.24 676.18,307.69 679.08,307.13 681.97,306.56 684.86,305.98 687.75,305.39 690.64,304.79 693.53,304.19 696.42,303.57 699.32,302.95 702.21,302.32 705.10,301.69 707.99,301.05 710.88,300.40 713.77,299.75 716.67,299.10 719.56,298.43 722.45,297.77 725.34,297.10 728.23,296.42 731.12,295.74 734.02,295.06 736.91,294.38 739.80,293.69 742.69,293.00 745.58,292.30 748.48,291.61 751.37,290.91 754.26,290.21 757.15,289.50 760.04,288.80 762.93,288.09 765.83,287.38 768.72,286.67 771.61,285.96 774.50,285.25" fill="none" stroke="#E3A616" stroke-width="2"/>
<line x1="233.50" y1="383.5" x2="233.50" y2="461.5" stroke="#dcdcdc" stroke-width="1"/>
<line x1="60.5" y1="409.4" x2="406.5" y2="409.4" stroke="#dcdcdc" stroke-width="1"/>
<line x1="60.5" y1="435.1" x2="406.5" y2="435.1" stroke="#dcdcdc" stroke-width="1"/>
<line x1="112.58" y1="461.5" x2="112.58" y2="383.5" stroke="#9a9a9a" stroke-width="1" stroke-dasharray="1.2 4.5" stroke-dashoffset="-0.6"/>
<line x1="143.04" y1="461.5" x2="143.04" y2="383.5" stroke="#9a9a9a" stroke-width="1" stroke-dasharray="1.2 4.5" stroke-dashoffset="-0.6"/>
<line x1="164.66" y1="461.5" x2="164.66" y2="383.5" stroke="#9a9a9a" stroke-width="1" stroke-dasharray="1.2 4.5" stroke-dashoffset="-0.6"/>
<line x1="181.42" y1="461.5" x2="181.42" y2="383.5" stroke="#9a9a9a" stroke-width="1" stroke-dasharray="1.2 4.5" stroke-dashoffset="-0.6"/>
<line x1="195.12" y1="461.5" x2="195.12" y2="383.5" stroke="#9a9a9a" stroke-width="1" stroke-dasharray="1.2 4.5" stroke-dashoffset="-0.6"/>
<line x1="206.70" y1="461.5" x2="206.70" y2="383.5" stroke="#9a9a9a" stroke-width="1" stroke-dasharray="1.2 4.5" stroke-dashoffset="-0.6"/>
<line x1="216.73" y1="461.5" x2="216.73" y2="383.5" stroke="#9a9a9a" stroke-width="1" stroke-dasharray="1.2 4.5" stroke-dashoffset="-0.6"/>
<line x1="225.58" y1="461.5" x2="225.58" y2="383.5" stroke="#9a9a9a" stroke-width="1" stroke-dasharray="1.2 4.5" stroke-dashoffset="-0.6"/>
<line x1="285.58" y1="461.5" x2="285.58" y2="383.5" stroke="#9a9a9a" stroke-width="1" stroke-dasharray="1.2 4.5" stroke-dashoffset="-0.6"/>
<line x1="316.04" y1="461.5" x2="316.04" y2="383.5" stroke="#9a9a9a" stroke-width="1" stroke-dasharray="1.2 4.5" stroke-dashoffset="-0.6"/>
<line x1="337.66" y1="461.5" x2="337.66" y2="383.5" stroke="#9a9a9a" stroke-width="1" stroke-dasharray="1.2 4.5" stroke-dashoffset="-0.6"/>
<line x1="354.42" y1="461.5" x2="354.42" y2="383.5" stroke="#9a9a9a" stroke-width="1" stroke-dasharray="1.2 4.5" stroke-dashoffset="-0.6"/>
<line x1="368.12" y1="461.5" x2="368.12" y2="383.5" stroke="#9a9a9a" stroke-width="1" stroke-dasharray="1.2 4.5" stroke-dashoffset="-0.6"/>
<line x1="379.70" y1="461.5" x2="379.70" y2="383.5" stroke="#9a9a9a" stroke-width="1" stroke-dasharray="1.2 4.5" stroke-dashoffset="-0.6"/>
<line x1="389.73" y1="461.5" x2="389.73" y2="383.5" stroke="#9a9a9a" stroke-width="1" stroke-dasharray="1.2 4.5" stroke-dashoffset="-0.6"/>
<line x1="398.58" y1="461.5" x2="398.58" y2="383.5" stroke="#9a9a9a" stroke-width="1" stroke-dasharray="1.2 4.5" stroke-dashoffset="-0.6"/>
<path d="M60.50 461.5v-4M60.50 383.5v4M112.58 461.5v-2.2M112.58 383.5v2.2M143.04 461.5v-2.2M143.04 383.5v2.2M164.66 461.5v-2.2M164.66 383.5v2.2M181.42 461.5v-2.2M181.42 383.5v2.2M195.12 461.5v-2.2M195.12 383.5v2.2M206.70 461.5v-2.2M206.70 383.5v2.2M216.73 461.5v-2.2M216.73 383.5v2.2M225.58 461.5v-2.2M225.58 383.5v2.2M233.50 461.5v-4M233.50 383.5v4M285.58 461.5v-2.2M285.58 383.5v2.2M316.04 461.5v-2.2M316.04 383.5v2.2M337.66 461.5v-2.2M337.66 383.5v2.2M354.42 461.5v-2.2M354.42 383.5v2.2M368.12 461.5v-2.2M368.12 383.5v2.2M379.70 461.5v-2.2M379.70 383.5v2.2M389.73 461.5v-2.2M389.73 383.5v2.2M398.58 461.5v-2.2M398.58 383.5v2.2M406.50 461.5v-4M406.50 383.5v4M60.5 383.5h3.5M406.5 383.5h-3.5M60.5 409.4h3.5M406.5 409.4h-3.5M60.5 435.1h3.5M406.5 435.1h-3.5M60.5 461.5h3.5M406.5 461.5h-3.5" stroke="#111" stroke-width="1.15" fill="none"/>
<rect x="60.5" y="383.5" width="346.0" height="78.0" fill="none" stroke="#111" stroke-width="1.15"/>
<ellipse cx="128.60" cy="437.30" rx="5.15" ry="5.5" fill="none" stroke="#0000ff" stroke-width="1.5"/>
<ellipse cx="198.00" cy="434.00" rx="5.15" ry="5.5" fill="none" stroke="#0000ff" stroke-width="1.5"/>
<ellipse cx="267.60" cy="432.70" rx="5.15" ry="5.5" fill="none" stroke="#0000ff" stroke-width="1.5"/>
<ellipse cx="336.95" cy="434.55" rx="5.15" ry="5.5" fill="none" stroke="#0000ff" stroke-width="1.5"/>
<ellipse cx="406.15" cy="434.35" rx="5.15" ry="5.5" fill="none" stroke="#0000ff" stroke-width="1.5"/>
<path d="M124.20 433.40h9.60M129.00 428.20v10.40M125.50 429.50l7.00 7.80M125.50 437.30l7.00 -7.80" stroke="#ff0000" stroke-width="1.3" fill="none"/>
<path d="M193.80 436.20h9.60M198.60 431.00v10.40M195.10 432.30l7.00 7.80M195.10 440.10l7.00 -7.80" stroke="#ff0000" stroke-width="1.3" fill="none"/>
<path d="M263.20 436.80h9.60M268.00 431.60v10.40M264.50 432.90l7.00 7.80M264.50 440.70l7.00 -7.80" stroke="#ff0000" stroke-width="1.3" fill="none"/>
<path d="M332.55 434.95h9.60M337.35 429.75v10.40M333.85 431.05l7.00 7.80M333.85 438.85l7.00 -7.80" stroke="#ff0000" stroke-width="1.3" fill="none"/>
<path d="M402.15 435.35h9.60M406.95 430.15v10.40M403.45 431.45l7.00 7.80M403.45 439.25l7.00 -7.80" stroke="#ff0000" stroke-width="1.3" fill="none"/>
<polyline points="60.50,435.00 63.38,435.00 66.27,435.00 69.15,435.00 72.03,435.00 74.92,435.00 77.80,435.00 80.68,435.00 83.57,435.00 86.45,435.00 89.33,435.00 92.22,435.00 95.10,435.00 97.98,435.00 100.87,435.00 103.75,435.00 106.63,435.00 109.52,435.00 112.40,435.00 115.28,435.00 118.17,435.00 121.05,435.00 123.93,435.00 126.82,435.00 129.70,435.00 132.58,435.00 135.47,435.00 138.35,435.00 141.23,435.00 144.12,435.00 147.00,435.00 149.88,435.00 152.77,435.00 155.65,435.00 158.53,435.00 161.42,435.00 164.30,435.00 167.18,435.00 170.07,435.00 172.95,435.00 175.83,435.00 178.72,435.00 181.60,435.00 184.48,435.00 187.37,435.00 190.25,435.00 193.13,435.00 196.02,435.00 198.90,435.00 201.78,435.00 204.67,435.00 207.55,435.00 210.43,435.00 213.32,435.00 216.20,435.00 219.08,435.00 221.97,435.00 224.85,435.00 227.73,435.00 230.62,435.00 233.50,435.00 236.38,435.00 239.27,435.00 242.15,435.00 245.03,435.00 247.92,435.00 250.80,435.00 253.68,435.00 256.57,435.00 259.45,435.00 262.33,435.00 265.22,435.00 268.10,435.00 270.98,435.00 273.87,435.00 276.75,435.00 279.63,435.00 282.52,435.00 285.40,435.00 288.28,435.00 291.17,435.00 294.05,435.00 296.93,435.00 299.82,435.00 302.70,435.00 305.58,435.00 308.47,435.00 311.35,435.00 314.23,435.00 317.12,435.00 320.00,435.00 322.88,435.00 325.77,435.00 328.65,435.00 331.53,435.00 334.42,435.00 337.30,435.00 340.18,435.00 343.07,435.00 345.95,435.00 348.83,435.00 351.72,435.00 354.60,435.00 357.48,435.00 360.37,435.00 363.25,435.00 366.13,435.00 369.02,435.00 371.90,435.00 374.78,435.00 377.67,435.00 380.55,435.00 383.43,435.00 386.32,435.00 389.20,435.00 392.08,435.00 394.97,435.00 397.85,435.00 400.73,435.00 403.62,435.00 406.50,435.00" fill="none" stroke="#E3A616" stroke-width="2"/>
<line x1="601.00" y1="383.5" x2="601.00" y2="461.5" stroke="#dcdcdc" stroke-width="1"/>
<line x1="427.5" y1="409.4" x2="774.5" y2="409.4" stroke="#dcdcdc" stroke-width="1"/>
<line x1="427.5" y1="435.1" x2="774.5" y2="435.1" stroke="#dcdcdc" stroke-width="1"/>
<line x1="479.73" y1="461.5" x2="479.73" y2="383.5" stroke="#9a9a9a" stroke-width="1" stroke-dasharray="1.2 4.5" stroke-dashoffset="-0.6"/>
<line x1="510.28" y1="461.5" x2="510.28" y2="383.5" stroke="#9a9a9a" stroke-width="1" stroke-dasharray="1.2 4.5" stroke-dashoffset="-0.6"/>
<line x1="531.96" y1="461.5" x2="531.96" y2="383.5" stroke="#9a9a9a" stroke-width="1" stroke-dasharray="1.2 4.5" stroke-dashoffset="-0.6"/>
<line x1="548.77" y1="461.5" x2="548.77" y2="383.5" stroke="#9a9a9a" stroke-width="1" stroke-dasharray="1.2 4.5" stroke-dashoffset="-0.6"/>
<line x1="562.51" y1="461.5" x2="562.51" y2="383.5" stroke="#9a9a9a" stroke-width="1" stroke-dasharray="1.2 4.5" stroke-dashoffset="-0.6"/>
<line x1="574.12" y1="461.5" x2="574.12" y2="383.5" stroke="#9a9a9a" stroke-width="1" stroke-dasharray="1.2 4.5" stroke-dashoffset="-0.6"/>
<line x1="584.19" y1="461.5" x2="584.19" y2="383.5" stroke="#9a9a9a" stroke-width="1" stroke-dasharray="1.2 4.5" stroke-dashoffset="-0.6"/>
<line x1="593.06" y1="461.5" x2="593.06" y2="383.5" stroke="#9a9a9a" stroke-width="1" stroke-dasharray="1.2 4.5" stroke-dashoffset="-0.6"/>
<line x1="653.23" y1="461.5" x2="653.23" y2="383.5" stroke="#9a9a9a" stroke-width="1" stroke-dasharray="1.2 4.5" stroke-dashoffset="-0.6"/>
<line x1="683.78" y1="461.5" x2="683.78" y2="383.5" stroke="#9a9a9a" stroke-width="1" stroke-dasharray="1.2 4.5" stroke-dashoffset="-0.6"/>
<line x1="705.46" y1="461.5" x2="705.46" y2="383.5" stroke="#9a9a9a" stroke-width="1" stroke-dasharray="1.2 4.5" stroke-dashoffset="-0.6"/>
<line x1="722.27" y1="461.5" x2="722.27" y2="383.5" stroke="#9a9a9a" stroke-width="1" stroke-dasharray="1.2 4.5" stroke-dashoffset="-0.6"/>
<line x1="736.01" y1="461.5" x2="736.01" y2="383.5" stroke="#9a9a9a" stroke-width="1" stroke-dasharray="1.2 4.5" stroke-dashoffset="-0.6"/>
<line x1="747.62" y1="461.5" x2="747.62" y2="383.5" stroke="#9a9a9a" stroke-width="1" stroke-dasharray="1.2 4.5" stroke-dashoffset="-0.6"/>
<line x1="757.69" y1="461.5" x2="757.69" y2="383.5" stroke="#9a9a9a" stroke-width="1" stroke-dasharray="1.2 4.5" stroke-dashoffset="-0.6"/>
<line x1="766.56" y1="461.5" x2="766.56" y2="383.5" stroke="#9a9a9a" stroke-width="1" stroke-dasharray="1.2 4.5" stroke-dashoffset="-0.6"/>
<path d="M427.50 461.5v-4M427.50 383.5v4M479.73 461.5v-2.2M479.73 383.5v2.2M510.28 461.5v-2.2M510.28 383.5v2.2M531.96 461.5v-2.2M531.96 383.5v2.2M548.77 461.5v-2.2M548.77 383.5v2.2M562.51 461.5v-2.2M562.51 383.5v2.2M574.12 461.5v-2.2M574.12 383.5v2.2M584.19 461.5v-2.2M584.19 383.5v2.2M593.06 461.5v-2.2M593.06 383.5v2.2M601.00 461.5v-4M601.00 383.5v4M653.23 461.5v-2.2M653.23 383.5v2.2M683.78 461.5v-2.2M683.78 383.5v2.2M705.46 461.5v-2.2M705.46 383.5v2.2M722.27 461.5v-2.2M722.27 383.5v2.2M736.01 461.5v-2.2M736.01 383.5v2.2M747.62 461.5v-2.2M747.62 383.5v2.2M757.69 461.5v-2.2M757.69 383.5v2.2M766.56 461.5v-2.2M766.56 383.5v2.2M774.50 461.5v-4M774.50 383.5v4M427.5 383.5h3.5M774.5 383.5h-3.5M427.5 409.4h3.5M774.5 409.4h-3.5M427.5 435.1h3.5M774.5 435.1h-3.5M427.5 461.5h3.5M774.5 461.5h-3.5" stroke="#111" stroke-width="1.15" fill="none"/>
<rect x="427.5" y="383.5" width="347.0" height="78.0" fill="none" stroke="#111" stroke-width="1.15"/>
<ellipse cx="496.15" cy="432.35" rx="5.15" ry="5.5" fill="none" stroke="#0000ff" stroke-width="1.5"/>
<ellipse cx="565.85" cy="421.20" rx="5.15" ry="5.5" fill="none" stroke="#0000ff" stroke-width="1.5"/>
<ellipse cx="635.00" cy="407.20" rx="5.15" ry="5.5" fill="none" stroke="#0000ff" stroke-width="1.5"/>
<ellipse cx="704.65" cy="395.35" rx="5.15" ry="5.5" fill="none" stroke="#0000ff" stroke-width="1.5"/>
<ellipse cx="773.95" cy="388.05" rx="5.15" ry="5.5" fill="none" stroke="#0000ff" stroke-width="1.5"/>
<path d="M491.75 429.85h9.60M496.55 424.65v10.40M493.05 425.95l7.00 7.80M493.05 433.75l7.00 -7.80" stroke="#ff0000" stroke-width="1.3" fill="none"/>
<path d="M561.75 422.75h9.60M566.55 417.55v10.40M563.05 418.85l7.00 7.80M563.05 426.65l7.00 -7.80" stroke="#ff0000" stroke-width="1.3" fill="none"/>
<path d="M630.75 409.35h9.60M635.55 404.15v10.40M632.05 405.45l7.00 7.80M632.05 413.25l7.00 -7.80" stroke="#ff0000" stroke-width="1.3" fill="none"/>
<path d="M700.35 396.15h9.60M705.15 390.95v10.40M701.65 392.25l7.00 7.80M701.65 400.05l7.00 -7.80" stroke="#ff0000" stroke-width="1.3" fill="none"/>
<path d="M769.75 388.65h9.60M774.55 383.45v10.40M771.05 384.75l7.00 7.80M771.05 392.55l7.00 -7.80" stroke="#ff0000" stroke-width="1.3" fill="none"/>
<polyline points="427.50,433.07 430.39,432.99 433.28,432.90 436.18,432.81 439.07,432.72 441.96,432.63 444.85,432.52 447.74,432.42 450.63,432.31 453.52,432.20 456.42,432.08 459.31,431.96 462.20,431.84 465.09,431.71 467.98,431.57 470.88,431.43 473.77,431.28 476.66,431.13 479.55,430.97 482.44,430.81 485.33,430.64 488.23,430.47 491.12,430.28 494.01,430.09 496.90,429.90 499.79,429.69 502.68,429.48 505.57,429.26 508.47,429.04 511.36,428.80 514.25,428.56 517.14,428.31 520.03,428.05 522.92,427.78 525.82,427.50 528.71,427.21 531.60,426.91 534.49,426.60 537.38,426.28 540.27,425.95 543.17,425.61 546.06,425.25 548.95,424.89 551.84,424.51 554.73,424.13 557.62,423.73 560.52,423.32 563.41,422.90 566.30,422.46 569.19,422.02 572.08,421.56 574.98,421.09 577.87,420.61 580.76,420.12 583.65,419.61 586.54,419.10 589.43,418.57 592.33,418.03 595.22,417.49 598.11,416.93 601.00,416.36 603.89,415.79 606.78,415.21 609.67,414.61 612.57,414.02 615.46,413.42 618.35,412.81 621.24,412.20 624.13,411.58 627.02,410.96 629.92,410.34 632.81,409.72 635.70,409.10 638.59,408.48 641.48,407.86 644.38,407.25 647.27,406.63 650.16,406.03 653.05,405.42 655.94,404.83 658.83,404.24 661.73,403.66 664.62,403.09 667.51,402.52 670.40,401.97 673.29,401.42 676.18,400.89 679.08,400.36 681.97,399.85 684.86,399.35 687.75,398.85 690.64,398.38 693.53,397.91 696.42,397.45 699.32,397.01 702.21,396.58 705.10,396.16 707.99,395.75 710.88,395.35 713.77,394.97 716.67,394.59 719.56,394.23 722.45,393.88 725.34,393.54 728.23,393.21 731.12,392.90 734.02,392.59 736.91,392.29 739.80,392.00 742.69,391.72 745.58,391.46 748.48,391.20 751.37,390.95 754.26,390.70 757.15,390.47 760.04,390.25 762.93,390.03 765.83,389.82 768.72,389.62 771.61,389.42 774.50,389.23" fill="none" stroke="#E3A616" stroke-width="2"/>
<g font-family="Liberation Sans, Arial, sans-serif" font-size="15.5" fill="#000"><text transform="translate(52.5 73.50) scale(0.915 1)" text-anchor="end">20</text><text transform="translate(52.5 118.00) scale(0.915 1)" text-anchor="end">0</text><text transform="translate(52.5 162.50) scale(0.915 1)" text-anchor="end">-20</text><text transform="translate(52.5 282.50) scale(0.915 1)" text-anchor="end">20</text><text transform="translate(52.5 327.00) scale(0.915 1)" text-anchor="end">0</text><text transform="translate(52.5 371.50) scale(0.915 1)" text-anchor="end">-20</text><text transform="translate(52.5 179.50) scale(0.915 1)" text-anchor="end">90</text><text transform="translate(52.5 199.50) scale(0.915 1)" text-anchor="end">0</text><text transform="translate(52.5 219.50) scale(0.915 1)" text-anchor="end">-90</text><text transform="translate(52.5 239.50) scale(0.915 1)" text-anchor="end">-180</text><text transform="translate(52.5 259.50) scale(0.915 1)" text-anchor="end">-270</text><text transform="translate(52.5 389.50) scale(0.915 1)" text-anchor="end">90</text><text transform="translate(52.5 415.50) scale(0.915 1)" text-anchor="end">45</text><text transform="translate(52.5 441.50) scale(0.915 1)" text-anchor="end">0</text><text transform="translate(52.5 467.50) scale(0.915 1)" text-anchor="end">-45</text></g>
<g font-family="Liberation Sans, Arial, sans-serif" font-size="15.5" fill="#000"><text transform="translate(59.3 490.5) scale(0.80 1)" text-anchor="middle" font-size="16">10<tspan font-size="12.4" dx="3.0" dy="-7.5">1</tspan></text><text transform="translate(232.3 490.5) scale(0.80 1)" text-anchor="middle" font-size="16">10<tspan font-size="12.4" dx="3.0" dy="-7.5">2</tspan></text><text transform="translate(405.3 490.5) scale(0.80 1)" text-anchor="middle" font-size="16">10<tspan font-size="12.4" dx="3.0" dy="-7.5">3</tspan></text><text transform="translate(426.3 490.5) scale(0.80 1)" text-anchor="middle" font-size="16">10<tspan font-size="12.4" dx="3.0" dy="-7.5">1</tspan></text><text transform="translate(599.8 490.5) scale(0.80 1)" text-anchor="middle" font-size="16">10<tspan font-size="12.4" dx="3.0" dy="-7.5">2</tspan></text><text transform="translate(773.3 490.5) scale(0.80 1)" text-anchor="middle" font-size="16">10<tspan font-size="12.4" dx="3.0" dy="-7.5">3</tspan></text></g>
<text transform="translate(364.3 510.5) scale(0.942 1)" font-family="Liberation Sans, Arial, sans-serif" font-size="15.2">Frequency&#160; (Hz)</text>
<text transform="translate(20.4 112.2) rotate(-90) scale(0.951 1)" text-anchor="middle" font-family="Liberation Serif, Times New Roman, serif" font-size="14.8">Magnitude (dB)</text>
<text transform="translate(20.4 221.1) rotate(-90) scale(0.951 1)" text-anchor="middle" font-family="Liberation Serif, Times New Roman, serif" font-size="14.8">Phase (Degree)</text>
<text transform="translate(20.4 320.8) rotate(-90) scale(0.951 1)" text-anchor="middle" font-family="Liberation Serif, Times New Roman, serif" font-size="14.8">Magnitude (dB)</text>
<text transform="translate(20.4 429.5) rotate(-90) scale(0.951 1)" text-anchor="middle" font-family="Liberation Serif, Times New Roman, serif" font-size="14.8">Phase (Degree)</text>
<text transform="translate(355 138.6) scale(1.18 1)" font-family="Liberation Serif, Times New Roman, serif" font-style="italic" font-weight="bold" font-size="28.5">Z</text>
<text transform="translate(374.1 145.8) scale(1.044 1)" font-family="Liberation Serif, Times New Roman, serif" font-style="italic" font-weight="bold" font-size="19.3">dd</text>
<text transform="translate(721.6 99.5) scale(1.18 1)" font-family="Liberation Serif, Times New Roman, serif" font-style="italic" font-weight="bold" font-size="28.5">Z</text>
<text transform="translate(740.7 107.6) scale(1.044 1)" font-family="Liberation Serif, Times New Roman, serif" font-style="italic" font-weight="bold" font-size="19.3">dq</text>
<text transform="translate(355 303.8) scale(1.18 1)" font-family="Liberation Serif, Times New Roman, serif" font-style="italic" font-weight="bold" font-size="28.5">Z</text>
<text transform="translate(374.1 311.6) scale(1.044 1)" font-family="Liberation Serif, Times New Roman, serif" font-style="italic" font-weight="bold" font-size="19.3">qd</text>
<text transform="translate(721.6 340.8) scale(1.18 1)" font-family="Liberation Serif, Times New Roman, serif" font-style="italic" font-weight="bold" font-size="28.5">Z</text>
<text transform="translate(740.7 348.90000000000003) scale(1.044 1)" font-family="Liberation Serif, Times New Roman, serif" font-style="italic" font-weight="bold" font-size="19.3">qq</text>
<ellipse cx="52.85" cy="529.4" rx="4" ry="3.6" fill="none" stroke="#3333e0" stroke-width="1.7"/>
<path d="M321.40 529.30h9.80M326.30 524.90v8.80M322.50 525.90l7.60 6.80M322.50 532.70l7.60 -6.80" stroke="#ff0000" stroke-width="1.6" fill="none"/>
<line x1="596.3" y1="530" x2="644.3" y2="530" stroke="#EBB740" stroke-width="2"/>
<g font-family="Liberation Serif, Times New Roman, serif" font-size="18" fill="#000"><text transform="translate(73.6 536) scale(1.128 1)">3 phase measurement</text><text transform="translate(345.5 536) scale(1.128 1)">1 phase measurement</text><text transform="translate(662.5 535) scale(1.125 1)">Actual value</text></g>
</svg></body></html>
